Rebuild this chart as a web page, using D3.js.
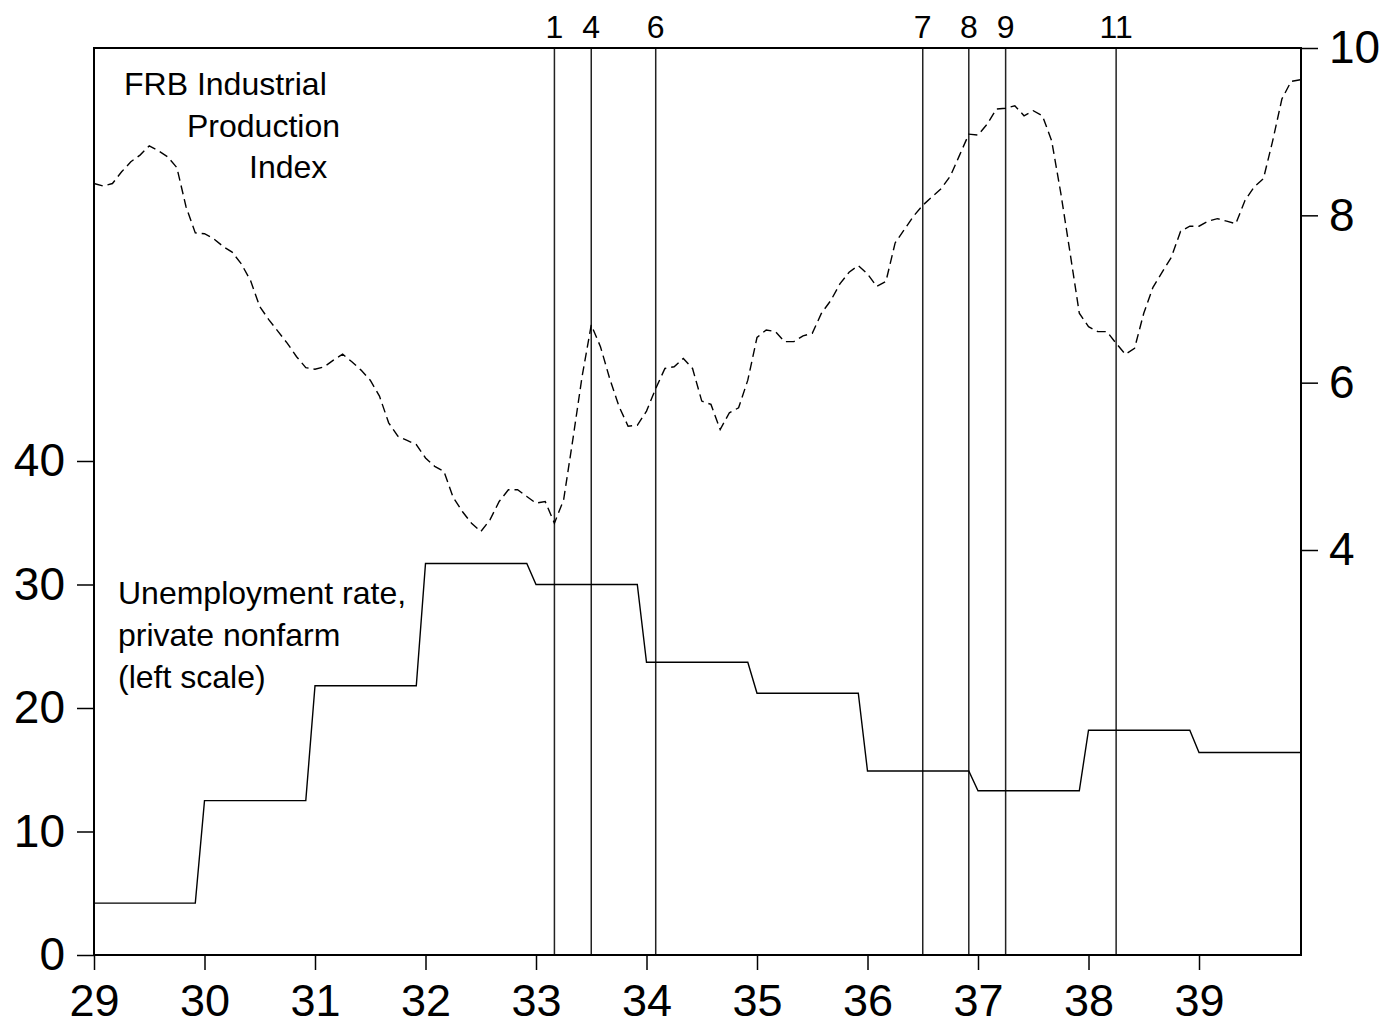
<!DOCTYPE html>
<html>
<head>
<meta charset="utf-8">
<script src="https://cdnjs.cloudflare.com/ajax/libs/d3/7.8.5/d3.min.js"></script>
<style>
body { margin: 0; background: #fff; }
text { font-family: "Liberation Sans", Arial, Helvetica, sans-serif; fill: #000; }
.axis text { font-size: 46px; }
.axis.bottom text { font-size: 45px; }
.axis line { stroke: #000; stroke-width: 1.5; }
.axis path { display: none; }
</style>
</head>
<body>
<svg id="chart" width="1390" height="1026"></svg>
<script>
// annual unemployment rate, private nonfarm (left scale)
var years = [29, 30, 31, 32, 33, 34, 35, 36, 37, 38, 39];
var unemployment = [4.2, 12.5, 21.8, 31.7, 30.0, 23.7, 21.2, 14.9, 13.3, 18.2, 16.4];

// monthly FRB industrial production index (right scale), Jan 1929 - Dec 1939
var production = [
	8.38, 8.35, 8.38, 8.52, 8.64, 8.72, 8.83, 8.77, 8.70, 8.57, 8.10, 7.79,
	7.78, 7.72, 7.63, 7.56, 7.42, 7.22, 6.91, 6.75, 6.61, 6.47, 6.31, 6.18,
	6.16, 6.19, 6.27, 6.34, 6.25, 6.15, 6.03, 5.84, 5.52, 5.36, 5.31, 5.26,
	5.10, 5.00, 4.94, 4.63, 4.46, 4.32, 4.22, 4.36, 4.58, 4.72, 4.72, 4.64,
	4.56, 4.58, 4.32, 4.60, 5.32, 6.07, 6.69, 6.43, 6.05, 5.72, 5.48, 5.49,
	5.66, 5.93, 6.17, 6.19, 6.29, 6.17, 5.78, 5.74, 5.44, 5.64, 5.70, 6.03,
	6.54, 6.63, 6.61, 6.49, 6.49, 6.56, 6.59, 6.83, 6.98, 7.18, 7.32, 7.40,
	7.30, 7.15, 7.21, 7.67, 7.83, 7.99, 8.12, 8.22, 8.32, 8.47, 8.72, 8.97,
	8.96, 9.09, 9.27, 9.28, 9.31, 9.19, 9.25, 9.19, 8.89, 8.26, 7.55, 6.83,
	6.67, 6.61, 6.61, 6.47, 6.34, 6.41, 6.83, 7.14, 7.32, 7.50, 7.81, 7.87,
	7.87, 7.93, 7.96, 7.93, 7.90, 8.18, 8.34, 8.44, 8.89, 9.39, 9.60, 9.62
];

// numbered events (vertical lines), as fractional years
var eventLabels = ["1", "4", "6", "7", "8", "9", "11"];
var eventDates = [33 + 2/12, 33 + 6/12, 34 + 1/12, 36 + 6/12, 36 + 11/12, 37 + 3/12, 38 + 3/12];

var leftTicks = [0, 10, 20, 30, 40];
var rightTicks = [4, 6, 8, 10];

var margin = {left: 94, right: 89, top: 48, bottom: 71};
var svg0 = d3.select("#chart");
var width = +svg0.attr("width") - margin.left - margin.right,
	height = +svg0.attr("height") - margin.top - margin.bottom;
var svg = svg0.append("g")
	.attr("transform", "translate(" + margin.left + "," + margin.top + ")");

var x = d3.scaleLinear()
	.domain([29, 39.923])
	.range([0, width]);

var yLeft = d3.scaleLinear()
	.domain([0, 73.44])
	.range([height, 0]);

var yRight = d3.scaleLinear()
	.domain([4, 10])
	.range([502, 0]);

// step series: each annual value held from January to December
var unempPoints = [];
years.forEach(function(yr, i){
	unempPoints.push({t: yr, v: unemployment[i]});
	unempPoints.push({t: yr + 11/12, v: unemployment[i]});
});

var prodPoints = production.map(function(v, i){
	return {t: 29 + i / 12, v: v};
});

// axes
svg.append("g")
	.attr("class", "axis")
	.call(d3.axisLeft(yLeft).tickValues(leftTicks).tickSize(17).tickPadding(12));

svg.append("g")
	.attr("class", "axis")
	.attr("transform", "translate(" + width + ",0)")
	.call(d3.axisRight(yRight).tickValues(rightTicks).tickSize(17).tickPadding(11).tickFormat(d3.format("d")));

svg.append("g")
	.attr("class", "axis bottom")
	.attr("transform", "translate(0," + height + ")")
	.call(d3.axisBottom(x).tickValues(years).tickSize(15).tickPadding(14).tickFormat(d3.format("d")));

// event lines
var ev = svg.append("g").selectAll("g")
	.data(eventDates).enter().append("g");

ev.append("line")
	.attr("x1", function(d){ return x(d); })
	.attr("x2", function(d){ return x(d); })
	.attr("y1", 0)
	.attr("y2", height)
	.style("stroke", "#222")
	.style("stroke-width", 1.5);

ev.append("text")
	.attr("x", function(d){ return x(d); })
	.attr("y", -10)
	.attr("text-anchor", "middle")
	.style("font-size", "32px")
	.text(function(d, i){ return eventLabels[i]; });

// lines
svg.append("path")
	.datum(unempPoints)
	.attr("d", d3.line()
		.x(function(d){ return x(d.t); })
		.y(function(d){ return yLeft(d.v); }))
	.style("fill", "none")
	.style("stroke", "#000")
	.style("stroke-width", 1.4);

svg.append("path")
	.datum(prodPoints)
	.attr("d", d3.line()
		.x(function(d){ return x(d.t); })
		.y(function(d){ return yRight(d.v); }))
	.style("fill", "none")
	.style("stroke", "#000")
	.style("stroke-width", 1.4)
	.style("stroke-dasharray", "9,5");

// frame
svg.append("rect")
	.attr("width", width)
	.attr("height", height)
	.style("fill", "none")
	.style("stroke", "#000")
	.style("stroke-width", 2);

// annotations
var notes = [
	{text: "FRB Industrial", x: 124, y: 95},
	{text: "Production", x: 187, y: 137},
	{text: "Index", x: 249, y: 178},
	{text: "Unemployment rate,", x: 118, y: 604},
	{text: "private nonfarm", x: 118, y: 646},
	{text: "(left scale)", x: 118, y: 688}
];
svg0.append("g").selectAll("text")
	.data(notes).enter().append("text")
	.attr("x", function(d){ return d.x; })
	.attr("y", function(d){ return d.y; })
	.style("font-size", "32px")
	.text(function(d){ return d.text; });
</script>
</body>
</html>
